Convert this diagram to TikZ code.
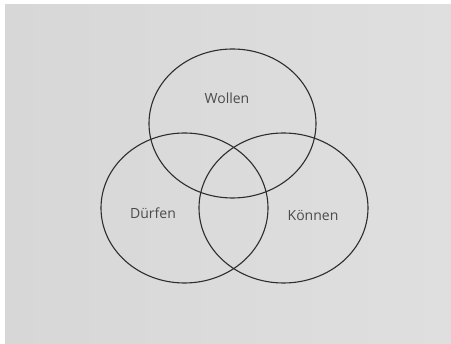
\documentclass[tikz,border=0pt]{standalone}
\usepackage{fontspec}
\setmainfont{Open Sans}
\definecolor{paper}{RGB}{223,223,223}
\definecolor{paperdark}{RGB}{215,215,215}
\definecolor{ink}{RGB}{45,45,45}
\definecolor{pencil}{RGB}{75,75,75}
\tikzset{
  ring/.style={draw=ink, line width=1.1pt},
  word/.style={text=pencil, font=\fontsize{14}{16}\selectfont, inner sep=0pt}
}
\begin{document}
\begin{tikzpicture}[x=1pt,y=-1pt]
  \useasboundingbox (0,0) rectangle (451,344);
  \fill[white] (0,0) rectangle (451,344);
  \shade[left color=paperdark, right color=paper] (5,5) rectangle (451,344);
  \draw[ring] (232.5,123.5) ellipse [x radius=83.5, y radius=74.5];
  \draw[ring] (184.5,208) ellipse [x radius=83.5, y radius=75];
  \draw[ring] (283.5,208) ellipse [x radius=84.5, y radius=75];
  \node[word] (wollen) at (227,98) {Wollen};
  \node[word] (duerfen) at (153,213) {Dürfen};
  \node[word] (koennen) at (313,215) {Können};
\end{tikzpicture}
\end{document}
